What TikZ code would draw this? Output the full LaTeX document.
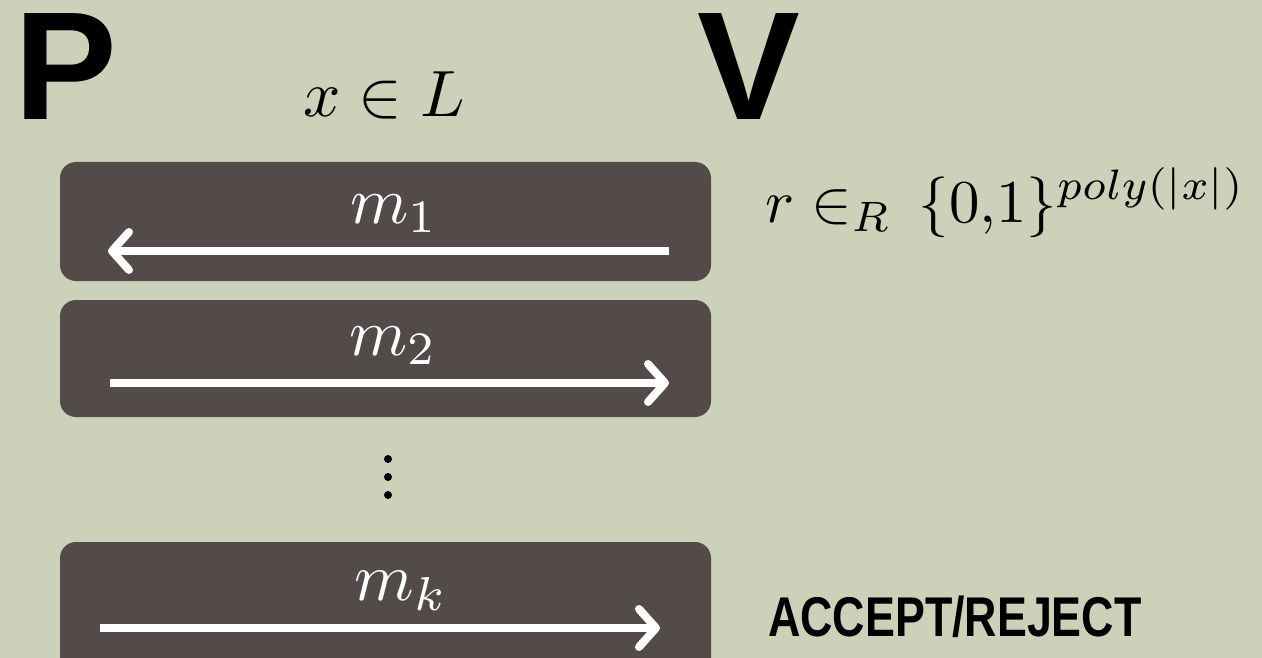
\documentclass[tikz,border=0pt]{standalone}
\usepackage{fontspec}
\usepackage{graphicx}
\usetikzlibrary{arrows.meta}
\newfontfamily\arialfont{Liberation Sans}
\definecolor{bgsage}{RGB}{204,209,186}
\definecolor{boxbrown}{RGB}{83,75,74}
\tikzset{
  msgbox/.style={fill=boxbrown, rounded corners=16pt, draw=none},
  msgarrow/.style={draw=white, line width=8pt, -{Straight Barb[length=17pt,width=38pt,line cap=round,line join=round]}},
  msglabel/.style={text=white, anchor=base, inner sep=0pt},
  party/.style={anchor=base west, inner sep=0pt, font=\arialfont\bfseries\fontsize{154}{160}\selectfont},
  mathlabel/.style={anchor=base west, inner sep=0pt},
  dot/.style={circle, fill=black, inner sep=0pt, minimum size=8pt}
}
\begin{document}
\begin{tikzpicture}[x=1pt,y=-1pt]
\fill[bgsage] (0,0) rectangle (1262,658);
\useasboundingbox (0,0) rectangle (1262,658);
% parties
\node[party] (P) at (14,120) {P};
\node[party] (V) at (697,120) {V};
% input
\node[mathlabel] (xin) at (303,117) {\resizebox{162pt}{!}{$x\in L$}};
% randomness
\node[mathlabel] (rnd) at (765,222) {\resizebox{480pt}{!}{$r\in_R\,\{0{,}1\}^{poly(|x|)}$}};
% boxes
\path[msgbox] (60,162) rectangle (711,281);
\path[msgbox] (60,300) rectangle (711,417);
\path[msgbox] (60,542) rectangle (711,675);
% messages
\node[msglabel] (m1) at (394,223) {\resizebox{88pt}{!}{$m_1$}};
\node[msglabel] (m2) at (393,355) {\resizebox{88pt}{!}{$m_2$}};
\node[msglabel] (mk) at (401,600) {\resizebox{93pt}{!}{$m_k$}};
\coordinate (a1s) at (669,251);
\coordinate (a1e) at (108,251);
\coordinate (a2s) at (110,383);
\coordinate (a2e) at (669,383);
\coordinate (a3s) at (100,628);
\coordinate (a3e) at (660,628);
\draw[msgarrow] (a1s) -- (a1e);
\draw[msgarrow] (a2s) -- (a2e);
\draw[msgarrow] (a3s) -- (a3e);
% dots
\node[dot] (d1) at (388,459) {};
\node[dot] (d2) at (388,477) {};
\node[dot] (d3) at (388,495) {};
% result
\node[anchor=base west, inner sep=0pt, font=\arialfont\bfseries\fontsize{56}{60}\selectfont] (res) at (768,636) {\scalebox{0.8}[1]{ACCEPT/REJECT}};
\end{tikzpicture}
\end{document}
